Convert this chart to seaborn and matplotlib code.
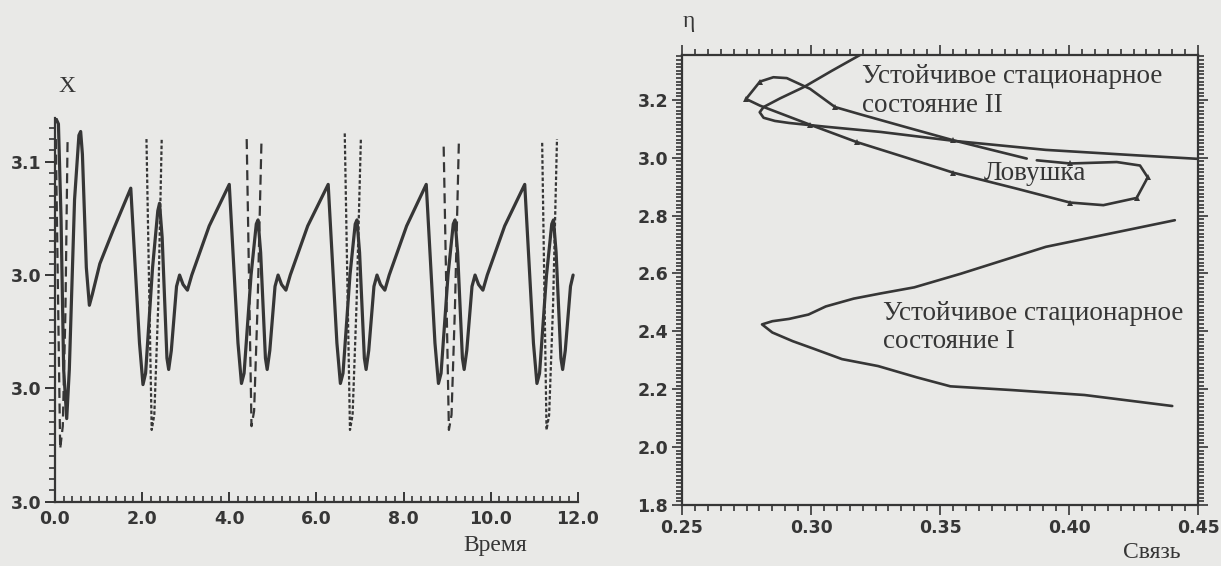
import matplotlib
matplotlib.use("Agg")
import matplotlib.pyplot as plt
import matplotlib.ticker as mticker
import seaborn as sns

# ---- left panel: X(t), solid trajectory ----
time_solid = [0.02, 0.08, 0.14, 0.20, 0.27, 0.33, 0.45, 0.55, 0.59, 0.63, 0.72, 0.79, 0.86, 1.03, 1.34,
              1.74, 1.94, 2.02, 2.08, 2.24, 2.36, 2.40, 2.46, 2.57, 2.61, 2.67, 2.79, 2.86, 2.94, 3.04, 3.14, 3.54,
              4.00, 4.20, 4.28, 4.34, 4.50, 4.62, 4.66, 4.72, 4.83, 4.87, 4.93, 5.05, 5.12, 5.20, 5.30, 5.40, 5.80,
              6.27, 6.47, 6.55, 6.61, 6.77, 6.89, 6.93, 6.99, 7.10, 7.14, 7.20, 7.32, 7.39, 7.47, 7.57, 7.67, 8.07,
              8.52, 8.72, 8.80, 8.86, 9.02, 9.14, 9.18, 9.24, 9.35, 9.39, 9.45, 9.57, 9.64, 9.72, 9.82, 9.92, 10.32,
              10.78, 10.98, 11.06, 11.12, 11.28, 11.40, 11.44, 11.50, 11.61, 11.65, 11.71, 11.83, 11.89]
x_solid = [3.0715, 3.070, 3.045, 3.005, 2.992, 3.005, 3.050, 3.067, 3.068, 3.062, 3.032, 3.022, 3.025, 3.033, 3.042,
           3.053, 3.012, 3.001, 3.004, 3.032, 3.047, 3.049, 3.040, 3.008, 3.005, 3.010, 3.027, 3.030, 3.0275, 3.026, 3.030, 3.043,
           3.054, 3.012, 3.0013, 3.004, 3.030, 3.0435, 3.0446, 3.036, 3.008, 3.005, 3.010, 3.027, 3.030, 3.0275, 3.026, 3.030, 3.043,
           3.054, 3.012, 3.0013, 3.004, 3.030, 3.0435, 3.0446, 3.036, 3.008, 3.005, 3.010, 3.027, 3.030, 3.0275, 3.026, 3.030, 3.043,
           3.054, 3.012, 3.0013, 3.004, 3.030, 3.0435, 3.0446, 3.036, 3.008, 3.005, 3.010, 3.027, 3.030, 3.0275, 3.026, 3.030, 3.043,
           3.054, 3.012, 3.0013, 3.004, 3.030, 3.0435, 3.0446, 3.036, 3.008, 3.005, 3.010, 3.027, 3.030]

# narrow spikes of the neighbouring trajectories (dashed / dotted)
spike0_t = [0.02, 0.12, 0.18, 0.24, 0.29]
spike0_x = [3.066, 2.984, 2.990, 3.020, 3.066]
spike1_t = [2.10, 2.22, 2.28, 2.37, 2.45]
spike1_x = [3.066, 2.989, 2.993, 3.022, 3.066]
spike2_t = [4.40, 4.51, 4.57, 4.65, 4.74]
spike2_x = [3.066, 2.990, 2.994, 3.022, 3.066]
spike3_t = [6.65, 6.77, 6.83, 6.92, 7.02]
spike3_x = [3.0675, 2.989, 2.993, 3.022, 3.066]
spike4_t = [8.92, 9.04, 9.10, 9.18, 9.27]
spike4_x = [3.064, 2.989, 2.993, 3.022, 3.066]
spike5_t = [11.18, 11.28, 11.34, 11.43, 11.52]
spike5_x = [3.065, 2.989, 2.993, 3.022, 3.066]

left_yticks = [2.97, 3.00, 3.03, 3.06]
left_xticks = [0, 2, 4, 6, 8, 10, 12]

# ---- right panel: eta vs coupling ----
state2_c = [0.3190, 0.3080, 0.2972, 0.2880, 0.2816, 0.2801, 0.2816, 0.2860, 0.2915, 0.3057, 0.3270, 0.3555, 0.3910, 0.4265, 0.4500]
state2_eta = [3.355, 3.300, 3.244, 3.205, 3.175, 3.157, 3.138, 3.127, 3.120, 3.107, 3.089, 3.058, 3.027, 3.008, 2.996]

state1_c = [0.4410, 0.3910, 0.3580, 0.3400, 0.3270, 0.3165, 0.3057, 0.2990, 0.2915, 0.2850, 0.2810,
            0.2850, 0.2929, 0.3010, 0.3120, 0.3260, 0.3410, 0.3540, 0.3780, 0.4060, 0.4400]
state1_eta = [2.784, 2.692, 2.599, 2.552, 2.531, 2.513, 2.486, 2.458, 2.443, 2.435, 2.424,
              2.396, 2.366, 2.340, 2.304, 2.280, 2.241, 2.210, 2.197, 2.180, 2.142]

trap_c = [0.3836, 0.3700, 0.3552, 0.3370, 0.3190, 0.3093, 0.2996, 0.2906, 0.2854, 0.2802, 0.2748, 0.2802,
          0.2996, 0.3177, 0.3370, 0.3552, 0.3797, 0.4004, 0.4133, 0.4262, 0.4305, 0.4275, 0.4185, 0.4004, 0.3875]
trap_eta = [2.997, 3.027, 3.060, 3.105, 3.150, 3.175, 3.238, 3.275, 3.278, 3.263, 3.203, 3.180,
            3.114, 3.054, 3.000, 2.948, 2.893, 2.845, 2.836, 2.861, 2.932, 2.973, 2.985, 2.980, 2.991]
trap_marks = [2, 5, 9, 10, 12, 13, 15, 17, 19, 20, 23]

right_xticks = [0.25, 0.30, 0.35, 0.40, 0.45]
right_yticks = [1.8, 2.0, 2.2, 2.4, 2.6, 2.8, 3.0, 3.2]

sns.set_theme(style="ticks")
plt.rcParams['font.family'] = ['Liberation Serif', 'DejaVu Serif']

paper = '#e9e9e7'
ink = '#363636'

fig = plt.figure(figsize=(12.21, 5.66), dpi=100, facecolor=paper)
ax1 = fig.add_axes([0.0450, 0.1136, 0.4283, 0.6774])
ax2 = fig.add_axes([0.5586, 0.1078, 0.4226, 0.7951])

for ax in (ax1, ax2):
    ax.set_facecolor('none')

# left panel
sns.lineplot(x=time_solid, y=x_solid, sort=False, estimator=None, color=ink, linewidth=2.3, ax=ax1)
dotted = (0, (1.6, 1.0))
dashed = (0, (4.5, 2.5))
for st, sx, ls in [(spike0_t, spike0_x, dashed), (spike1_t, spike1_x, dotted),
                   (spike2_t, spike2_x, dashed), (spike3_t, spike3_x, dotted),
                   (spike4_t, spike4_x, dashed), (spike5_t, spike5_x, dotted)]:
    sns.lineplot(x=st, y=sx, sort=False, estimator=None, color=ink, linewidth=1.6,
                 linestyle=ls, ax=ax1)

ax1.set_xlim(0, 12)
ax1.set_ylim(2.97, 3.0715)
ax1.set_xticks(left_xticks)
ax1.set_yticks(left_yticks)
ax1.xaxis.set_major_formatter(mticker.FormatStrFormatter('%.1f'))
ax1.yaxis.set_major_formatter(mticker.FormatStrFormatter('%.1f'))
ax1.xaxis.set_minor_locator(mticker.MultipleLocator(0.2))
ax1.yaxis.set_minor_locator(mticker.MultipleLocator(0.003))
ax1.spines['top'].set_visible(False)
ax1.spines['right'].set_visible(False)
ax1.tick_params(axis='x', which='major', direction='in', length=7, width=1.4, color=ink, pad=6)
ax1.tick_params(axis='x', which='minor', direction='in', length=4, width=1.2, color=ink)
ax1.tick_params(axis='y', which='major', direction='out', length=7, width=1.4, color=ink, pad=3)
ax1.tick_params(axis='y', which='minor', direction='out', length=4, width=1.2, color=ink)
ax1.text(0.27, 3.080, 'X', fontsize=17, color=ink, ha='center', va='center')
ax1.text(10.1, 2.9585, 'Время', fontsize=17, color=ink, ha='center', va='center')

# right panel
sns.lineplot(x=state2_c, y=state2_eta, sort=False, estimator=None, color=ink, linewidth=1.9, ax=ax2)
sns.lineplot(x=state1_c, y=state1_eta, sort=False, estimator=None, color=ink, linewidth=1.9, ax=ax2)
sns.lineplot(x=trap_c, y=trap_eta, sort=False, estimator=None, color=ink, linewidth=1.9,
             marker='^', markersize=5, markevery=trap_marks, markeredgewidth=0, ax=ax2)

ax2.set_xlim(0.25, 0.45)
ax2.set_ylim(1.8, 3.355)
ax2.set_xticks(right_xticks)
ax2.set_yticks(right_yticks)
ax2.xaxis.set_major_formatter(mticker.FormatStrFormatter('%.2f'))
ax2.yaxis.set_major_formatter(mticker.FormatStrFormatter('%.1f'))
ax2.xaxis.set_minor_locator(mticker.MultipleLocator(0.005))
ax2.yaxis.set_minor_locator(mticker.MultipleLocator(0.0125))
ax2.tick_params(which='both', direction='out', top=True, right=True, color=ink, width=1.2)
ax2.tick_params(which='major', length=7, pad=3)
ax2.tick_params(which='minor', length=4)
note = dict(fontsize=19.5, color=ink, ha='left', va='center')
ax2.text(0.3198, 3.281, 'Устойчивое стационарное', **note)
ax2.text(0.3198, 3.182, 'состояние II', **note)
ax2.text(0.3670, 2.946, 'Ловушка', **note)
ax2.text(0.3279, 2.463, 'Устойчивое стационарное', **note)
ax2.text(0.3279, 2.364, 'состояние I', **note)
ax2.text(0.2525, 3.47, 'η', fontsize=17, color=ink, ha='center', va='center')
ax2.text(0.432, 1.635, 'Связь', fontsize=17, color=ink, ha='center', va='center')

for ax in (ax1, ax2):
    for s in ax.spines.values():
        s.set_linewidth(1.6)
        s.set_color(ink)
    for lab in ax.get_xticklabels() + ax.get_yticklabels():
        lab.set_fontfamily('DejaVu Sans')
        lab.set_fontweight('bold')
        lab.set_fontsize(12.5)
        lab.set_color(ink)

fig.savefig('out.png', dpi=100, facecolor=paper)
